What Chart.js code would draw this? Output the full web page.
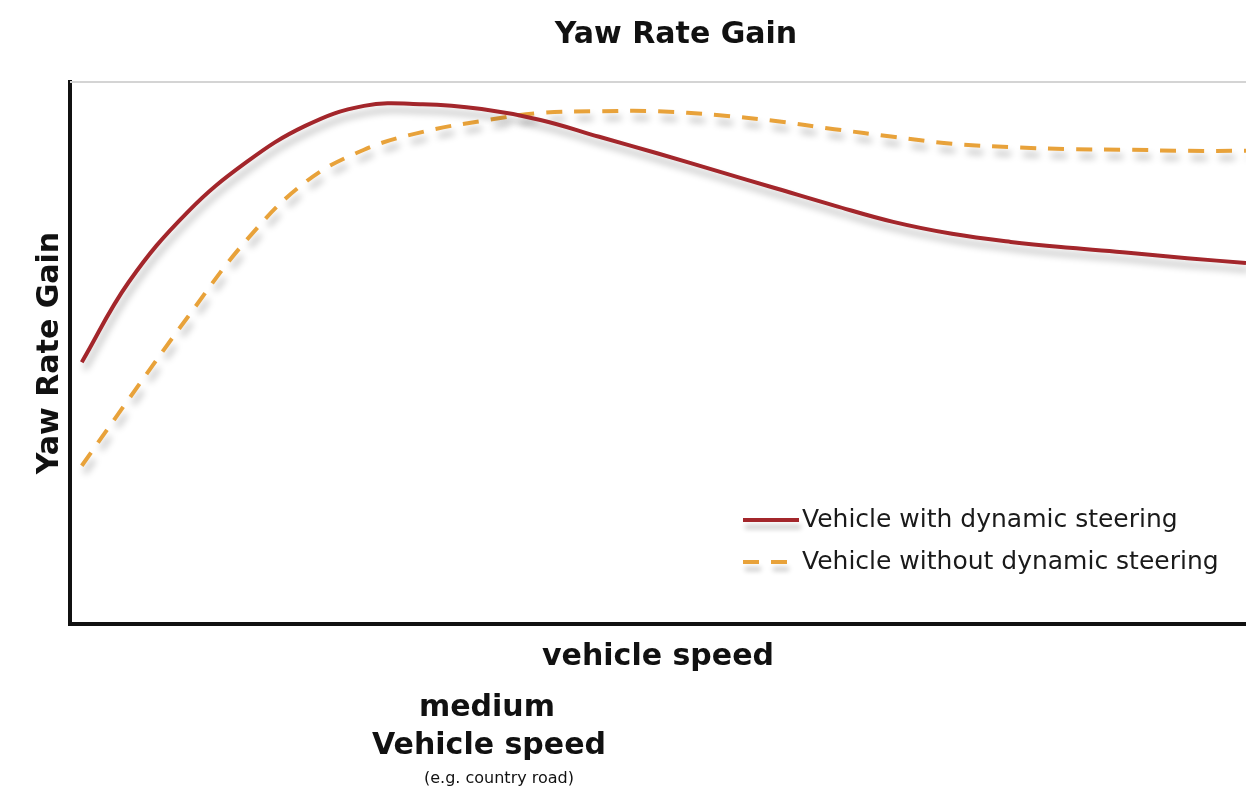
<!DOCTYPE html>
<html>
<head>
<meta charset="utf-8">
<script src="https://cdn.jsdelivr.net/npm/chart.js@4/dist/chart.umd.min.js"></script>
<style>
  html, body { margin: 0; padding: 0; background: #fff; }
  canvas { display: block; }
</style>
</head>
<body>
<canvas id="yawChart" width="1246" height="800"></canvas>
<script>
// vehicle speed (relative, 0..100) and yaw rate gain (relative, 0..100)
const speed = [1, 5, 10, 15, 20, 25, 30, 35, 40, 45, 50, 55, 60, 65, 70, 75, 80, 85, 90, 95, 100];
const withSteering = [48.3, 63.1, 76.0, 85.2, 91.9, 95.6, 95.9, 95.0, 93.0, 89.9, 86.8, 83.6, 80.4, 77.2, 74.2, 72.0, 70.5, 69.4, 68.5, 67.5, 66.6];
const withoutSteering = [29.2, 41.5, 56.6, 70.8, 81.5, 87.5, 90.8, 92.8, 94.3, 94.6, 94.6, 93.9, 92.8, 91.3, 89.9, 88.6, 88.0, 87.6, 87.5, 87.3, 87.3];
const seriesLabels = ['Vehicle with dynamic steering', 'Vehicle without dynamic steering'];
const chartTitle = 'Yaw Rate Gain';
const noteLines = ['medium', 'Vehicle speed', '(e.g. country road)'];

const RED = '#a3262b';
const ORANGE = '#e8a23a';
const BOLD = "bold 30px 'DejaVu Sans'";

const toPoints = vals => vals.map((v, i) => ({ x: speed[i], y: v }));

// soft drop shadow under the curves
const shadowPlugin = {
  id: 'shadow',
  beforeDatasetDraw(chart) {
    const ctx = chart.ctx;
    ctx.save();
    ctx.shadowColor = 'rgba(0,0,0,0.28)';
    ctx.shadowBlur = 7;
    ctx.shadowOffsetX = 3;
    ctx.shadowOffsetY = 7;
  },
  afterDatasetDraw(chart) {
    chart.ctx.restore();
  }
};

// title, top frame line, in-plot legend and the note under the axis
const extrasPlugin = {
  id: 'extras',
  beforeDatasetsDraw(chart) {
    const { ctx, chartArea } = chart;
    ctx.save();
    ctx.strokeStyle = '#d4d4d4';
    ctx.lineWidth = 2;
    ctx.beginPath();
    ctx.moveTo(chartArea.left, chartArea.top);
    ctx.lineTo(chartArea.right, chartArea.top);
    ctx.stroke();
    ctx.restore();
  },
  afterDraw(chart) {
    const { ctx } = chart;
    ctx.save();
    ctx.fillStyle = '#111';
    ctx.textAlign = 'center';
    ctx.textBaseline = 'middle';
    ctx.font = BOLD;
    ctx.fillText(chartTitle, 676, 35);

    // legend
    const rows = [520, 562];
    chart.data.datasets.forEach((ds, i) => {
      const y = rows[i];
      ctx.save();
      ctx.shadowColor = 'rgba(0,0,0,0.22)';
      ctx.shadowBlur = 5;
      ctx.shadowOffsetX = 2;
      ctx.shadowOffsetY = 7;
      ctx.strokeStyle = ds.borderColor;
      ctx.lineWidth = 4;
      ctx.setLineDash(ds.borderDash || []);
      ctx.beginPath();
      ctx.moveTo(743, y);
      ctx.lineTo(799, y);
      ctx.stroke();
      ctx.restore();
      ctx.fillStyle = '#1a1a1a';
      ctx.font = "25px 'DejaVu Sans'";
      ctx.textAlign = 'left';
      ctx.textBaseline = 'middle';
      ctx.fillText(ds.label, 802, y);
    });

    // note below the x axis title
    ctx.fillStyle = '#111';
    ctx.textAlign = 'center';
    ctx.textBaseline = 'middle';
    ctx.font = BOLD;
    ctx.fillText(noteLines[0], 487, 708);
    ctx.fillText(noteLines[1], 489, 746);
    ctx.font = "16px 'DejaVu Sans'";
    ctx.fillText(noteLines[2], 499, 779);
    ctx.restore();
  }
};

new Chart(document.getElementById('yawChart'), {
  type: 'line',
  data: {
    datasets: [
      {
        label: seriesLabels[0],
        data: toPoints(withSteering),
        borderColor: RED,
        borderWidth: 4,
        pointRadius: 0,
        fill: false,
        tension: 0.4
      },
      {
        label: seriesLabels[1],
        data: toPoints(withoutSteering),
        borderColor: ORANGE,
        borderWidth: 4,
        borderDash: [16, 12],
        pointRadius: 0,
        fill: false,
        tension: 0.4
      }
    ]
  },
  options: {
    responsive: false,
    animation: false,
    layout: { padding: { top: 82 } },
    plugins: {
      legend: { display: false },
      tooltip: { enabled: false },
      title: { display: false }
    },
    scales: {
      x: {
        type: 'linear',
        min: 0,
        max: 100,
        ticks: { display: false },
        grid: { display: false },
        border: { color: '#111', width: 4 },
        title: {
          display: true,
          text: 'vehicle speed',
          color: '#111',
          font: { family: 'DejaVu Sans', size: 30, weight: 'bold' },
          padding: { top: 0, bottom: 125 }
        },
        afterFit(scale) { scale.height = 176; }
      },
      y: {
        min: 0,
        max: 100,
        ticks: { display: false },
        grid: { display: false },
        border: { color: '#111', width: 4 },
        title: {
          display: true,
          text: 'Yaw Rate Gain',
          color: '#111',
          font: { family: 'DejaVu Sans', size: 30, weight: 'bold' },
          padding: { top: 32, bottom: 0 }
        },
        afterFit(scale) { scale.width = 70; }
      }
    }
  },
  plugins: [shadowPlugin, extrasPlugin]
});
</script>
</body>
</html>
